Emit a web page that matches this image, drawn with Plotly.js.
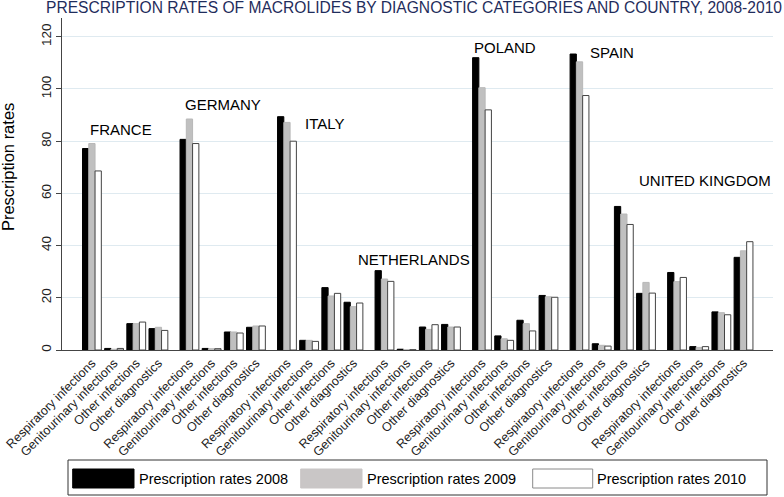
<!DOCTYPE html>
<html>
<head>
<meta charset="utf-8">
<script src="https://cdn.plot.ly/plotly-3.0.1.min.js"></script>
<style>html,body{margin:0;padding:0;background:#fff;}#chart{width:784px;height:497px;}</style>
</head>
<body>
<div id="chart"></div>
<script>
const countries = ['FRANCE','GERMANY','ITALY','NETHERLANDS','POLAND','SPAIN','UNITED KINGDOM'];
const categories = ['Respiratory infections','Genitourinary infections','Other infections','Other diagnostics'];
const seriesNames = ['Prescription rates 2008','Prescription rates 2009','Prescription rates 2010'];
const rates2008 = [77.2,0.6,10.1,8.2, 80.7,0.6,6.9,8.7, 89.4,3.7,23.9,18.3, 30.4,0.3,8.8,9.8, 112.0,5.4,11.4,20.9, 113.4,2.4,55.0,21.7, 29.7,1.3,14.6,35.5];
const rates2009 = [79.1,0.3,10.1,8.7, 88.5,0.5,6.9,9.2, 87.2,3.7,20.7,16.6, 27.2,0.1,7.9,8.8, 100.5,4.3,10.1,20.4, 110.4,1.8,52.1,25.9, 26.2,1.0,14.3,38.0];
const rates2010 = [68.6,0.6,10.7,7.5, 79.1,0.5,6.5,9.2, 80.0,3.3,21.7,18.0, 26.3,0.1,9.7,8.8, 92.0,3.7,7.3,20.2, 97.5,1.5,48.1,21.8, 27.8,1.3,13.5,41.5];

const FONT = 'Liberation Sans, Arial, sans-serif';
const GROUP_STEP = 4.4;
const xs = [], ticktext = [];
countries.forEach((c, ci) => categories.forEach((cat, k) => { xs.push(ci * GROUP_STEP + k); ticktext.push(cat); }));

const fills = ['#000000', '#c0c0c0', '#ffffff'];
const lines = ['#000000', '#b8b8b8', '#444444'];
const allRates = [rates2008, rates2009, rates2010];
const traces = allRates.map((vals, i) => ({
  type: 'bar', x: xs, y: vals, name: seriesNames[i],
  marker: {color: fills[i], line: {color: lines[i], width: 1}},
  hoverinfo: 'x+y'
}));

// country labels: offset from the first bar group of each country, and label height
const labelOffset = [-0.18, -0.29, 0.72, -1.29, -0.45, 0.38, -1.8];
const labelY = [84.3, 94.2, 86.6, 34.8, 115.9, 114.0, 64.9];
const annotations = countries.map((c, ci) => ({
  x: ci * GROUP_STEP + labelOffset[ci], y: labelY[ci], xref: 'x', yref: 'y',
  text: c, showarrow: false, xanchor: 'left', yanchor: 'middle',
  font: {family: FONT, size: 15, color: '#000'}
}));
annotations.push({
  xref: 'paper', yref: 'paper', x: -0.075, y: 0.55, xanchor: 'center', yanchor: 'middle',
  text: 'Prescription rates', textangle: -90, showarrow: false,
  font: {family: FONT, size: 16.5, color: '#000'}
});

// custom legend
const W = 711, H = 332, L = 62, T = 18;
const px = v => (v - L) / W, py = v => (T + H - v) / H;
const shapes = [{
  type: 'rect', xref: 'paper', yref: 'paper', x0: px(68), x1: px(767), y0: py(460), y1: py(495),
  line: {color: '#333', width: 1}, fillcolor: '#fff'
}];
const swX = [[72.7, 134], [300.7, 362], [532.7, 592.7]];
const txX = [137.3, 365, 595];
const swFill = ['#000000', '#c9c6c6', '#ffffff'];
const swLine = ['#000000', '#c9c6c6', '#8a8a8a'];
seriesNames.forEach((n, i) => {
  shapes.push({type: 'rect', xref: 'paper', yref: 'paper', x0: px(swX[i][0]), x1: px(swX[i][1]),
    y0: py(469), y1: py(488), fillcolor: swFill[i], line: {color: swLine[i], width: 1}});
  annotations.push({xref: 'paper', yref: 'paper', x: px(txX[i]), y: py(478.5), xanchor: 'left', yanchor: 'middle',
    text: n, showarrow: false, font: {family: FONT, size: 14.5, color: '#000'}});
});

const layout = {
  width: 784, height: 497,
  margin: {l: 62, r: 11, t: 18, b: 147},
  paper_bgcolor: '#fff', plot_bgcolor: '#fff',
  showlegend: false,
  barmode: 'group', bargap: 0.15, bargroupgap: 0,
  title: {text: 'PRESCRIPTION RATES OF MACROLIDES BY DIAGNOSTIC CATEGORIES AND COUNTRY, 2008-2010',
    x: 46 / 784, xref: 'container', xanchor: 'left', y: 1 - 8 / 497, yref: 'container', yanchor: 'middle',
    font: {family: FONT, size: 15.6, color: '#1f2d5c'}},
  xaxis: {range: [-1.35, 30.73], tickvals: xs, ticktext: ticktext, tickangle: -45,
    ticks: '', showgrid: false, zeroline: false, showline: true, linecolor: '#444', linewidth: 1,
    tickfont: {family: FONT, size: 12.5, color: '#222'}, fixedrange: true},
  yaxis: {range: [0, 127.2], tickvals: [0, 20, 40, 60, 80, 100, 120], tickangle: -90,
    ticks: 'outside', ticklen: 5, tickcolor: '#444', showline: true, linecolor: '#444', linewidth: 1,
    showgrid: true, gridcolor: '#dfeaf0', gridwidth: 1, zeroline: false,
    tickfont: {family: FONT, size: 13.5, color: '#222'}, fixedrange: true},
  annotations: annotations,
  shapes: shapes
};
Plotly.newPlot('chart', traces, layout, {displayModeBar: false, staticPlot: true});
</script>
</body>
</html>
